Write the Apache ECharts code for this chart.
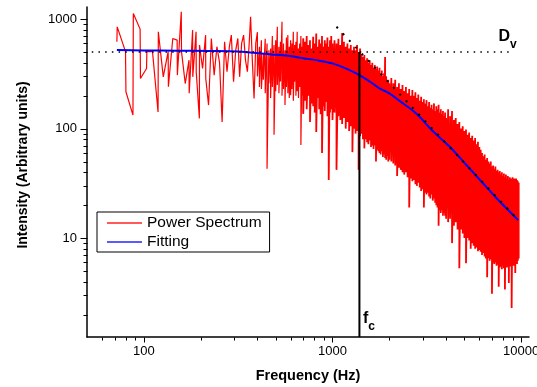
<!DOCTYPE html>
<html><head><meta charset="utf-8">
<script src="https://cdn.jsdelivr.net/npm/echarts@6/dist/echarts.min.js"></script>
<style>html,body{margin:0;padding:0;background:#fff}#c{width:537px;height:387px}</style>
</head><body><div id="c"></div>
<script>
// ---- Power spectrum, low-frequency part (individual points) ----
const lowHz = [72,72.3,80,80.4,87.6,88,95.6,96,103.4,103.8,111.2,119,119.4,126.8,134.6,135,142.4,150.2,150.6,158,158.4,165.8,173.6,174,181.4,181.8,189.2,189.6,197,197.4,204.8,212.6,213,220.4,228,236,244,252,260,268,276,284,291,299,307,315,322,330,338,346,354,361,368,376,384,392];
const lowVal = [620,850,505,217,133,1127,810,287,354,505,505,142,766,297,505,241,666,643,308,1166,505,258,422,210,793,297,766,331,124,580,354,714,287,164,666,308,560,400,115,620,331,560,714,268,520,666,297,600,714,420,331,560,1050,420,188,600];

// ---- Power spectrum, dense part: peak / trough read at each frequency ----
const bandHz = [400,410,420,430,440,450,460,470,480,490,500,510,520,530,540,550,560,570,580,590,600,610,620,630,640,650,660,670,680,690,700,
715,730,745,760,775,790,805,820,835,850,865,880,895,910,925,940,955,970,985,1000,
1025,1050,1075,1100,1125,1150,1175,1200,1225,1250,1275,1300,1325,1350,1375,1400,1425,1450,1475,1500,1525,1550,1575,1600,1625,1650,1675,1700,1725,1750,1775,1800,1825,1850,1875,1900,1925,1950,1975,2000,
2050,2100,2150,2200,2250,2300,2350,2400,2450,2500,2550,2600,2650,2700,2750,2800,2850,2900,2950,3000,3050,3100,3150,3200,3250,3300,3350,3400,3450,3500,3550,3600,3650,3700,3750,3800,3850,3900,3950,4000,
4100,4200,4300,4400,4500,4600,4700,4800,4900,5000,5100,5200,5300,5400,5500,5600,5700,5800,5900,6000,6100,6200,6300,6400,6500,6600,6700,6800,6900,7000,7100,7200,7300,7400,7500,7600,7700,7800,7900,8000,8100,8200,8300,8400,8500,8600,8700,8800,8900,9000,9100,9200,9300,9400,9500,9600,9700];
const bandHigh = [760,560,640,480,660,600,520,540,700,580,640,850,560,620,945,600,520,680,714,560,640,600,766,580,620,766,540,600,700,560,666,
620,700,580,640,540,690,600,740,560,650,600,700,560,640,600,680,560,640,700,600,
640,600,660,580,745,620,560,600,540,580,520,560,520,580,500,540,480,450,470,420,440,400,420,380,400,360,380,350,370,340,360,320,340,300,320,450,300,270,280,260,
290,260,280,240,260,230,250,220,240,210,230,200,225,200,215,190,205,180,195,175,185,170,182,160,175,155,165,150,170,145,160,150,165,140,150,135,145,130,140,125,
150,130,145,120,125,110,115,100,105,95,98,88,92,82,86,78,82,72,76,68,64,60,56,58,52,54,50,48,50,45,46,43,45,41,42,40,41,38,40,37,39,36,38,35,37,34,36,35,33,36,34,35,33,35,34,33,32];
const bandLow = [300,240,230,280,210,43,260,190,240,88,220,250,210,270,200,230,164,240,210,190,202,230,180,268,200,220,190,240,71,200,137,
180,150,200,115,170,160,140,93,190,150,135,60,160,145,175,130,34,140,150,120,
140,42,130,120,110,125,100,115,95,105,61,100,90,95,42,85,90,80,66,80,75,72,78,68,70,65,70,50,64,62,60,58,62,55,58,54,52,56,50,52,
50,48,46,37,44,42,40,38,40,36,19,35,33,34,31,30,32,29,27,28,19,26,25,26,24,23,25,22,23,21,20,19,13,18,17,18,16,17,16,15,
14,15,9,13,14,12,5.3,12,11,10,5.9,10,9.5,8,9,8.5,8,8.2,7.6,7.8,7.5,7,7.3,6.8,6.5,4.4,6.6,6.2,6.4,3.1,6,5.8,6,5.6,5.7,3.6,5.4,5.5,5.2,5.6,5.3,3.4,5.5,5.4,5.6,3.9,5.8,5.5,2.3,5.9,5.6,6,4.8,6.2,5.8,6.2,6.5];

// ---- Fitting curve ----
const fitHz  = [72,100,150,223,316,474,580,711,820,1000,1230,1389,1580,1774,2000,2260,2772,3397,4159,5096,6240,7650,9640];
const fitVal = [521,518,515,511,505,476,462,437,422,394,342,308,268,233,210,180,138,95,69,47,32,21.8,14.6];

// ---- Reference lines ----
const plateauHz = [53, 9000], plateauVal = [500, 500];      // D_v level
const slopeHz = [1050, 9640], slopeVal = [851, 14.6];       // high-frequency asymptote
const cornerHz = 1389;                                       // f_c

// ---- Axes ----
const X_MIN = 50, X_MAX = 11000, Y_MIN = 1.25, Y_MAX = 1290;
const xMajorTicks = [100, 1000, 10000];
const xMinorTicks = [60,70,80,90,200,300,400,500,600,700,800,900,2000,3000,4000,5000,6000,7000,8000,9000];
const yMajorTicks = [10, 100, 1000];
const yMinorTicks = [2,3,4,5,6,7,8,9,20,30,40,50,60,70,80,90,200,300,400,500,600,700,800,900];

const DENSE_FROM = 700;
const spectrumSparse = lowHz.map((f, i) => [f, lowVal[i]]);
const spectrumDense = [];
bandHz.forEach((f, i) => {
  if (f <= DENSE_FROM) { spectrumSparse.push([f, bandHigh[i]]); spectrumSparse.push([f, bandLow[i]]); }
  if (f >= DENSE_FROM) { spectrumDense.push([f, bandHigh[i]]); spectrumDense.push([f, bandLow[i]]); }
});
const fit = fitHz.map((f, i) => [f, fitVal[i]]);

const FONT = 'Liberation Sans, Arial, sans-serif';
const decadeLabel = v => { const l = Math.log10(v); return Math.abs(l - Math.round(l)) < 1e-6 ? String(Math.round(v)) : ''; };

function tickSeries(data, dx, dy) {
  return {
    type: 'custom', data: data, clip: false, silent: true, z: 10,
    renderItem: function (params, api) {
      const p = api.coord([api.value(0), api.value(1)]);
      const x = Math.round(p[0]) + 0.5, y = Math.round(p[1]) + 0.5;
      return { type: 'line', shape: { x1: x, y1: y, x2: x + dx, y2: y + dy }, style: { stroke: '#000', lineWidth: 1 } };
    }
  };
}

const chart = echarts.init(document.getElementById('c'), null, { renderer: 'canvas' });
chart.setOption({
  animation: false,
  backgroundColor: '#fff',
  textStyle: { fontFamily: FONT },
  grid: { left: 87, right: 8, top: 7, bottom: 50, containLabel: false, outerBoundsMode: 'none' },
  legend: {
    orient: 'vertical', left: 97, top: 212,
    padding: [3, 8, 2, 10], itemGap: 3, itemWidth: 35, itemHeight: 2,
    icon: 'rect',
    borderColor: '#000', borderWidth: 1, borderRadius: 0,
    textStyle: { fontSize: 15.5, color: '#000', fontFamily: FONT, lineHeight: 16 },
    data: [
      { name: 'Power Spectrum', itemStyle: { color: '#ff5a5a' } },
      { name: 'Fitting', itemStyle: { color: '#5a5aff' } }
    ]
  },
  xAxis: {
    type: 'log', logBase: 10, min: X_MIN, max: X_MAX,
    axisLine: { show: true, lineStyle: { color: '#000', width: 1.5 } },
    axisTick: { show: false }, minorTick: { show: false }, splitLine: { show: false },
    axisLabel: { formatter: decadeLabel, fontSize: 13, color: '#000', margin: 8, fontFamily: FONT, hideOverlap: false },
    name: 'Frequency (Hz)', nameLocation: 'middle', nameGap: 31,
    nameTextStyle: { fontSize: 14.5, fontWeight: 'bold', color: '#000', fontFamily: FONT }
  },
  yAxis: {
    type: 'log', logBase: 10, min: Y_MIN, max: Y_MAX,
    axisLine: { show: true, lineStyle: { color: '#000', width: 1.5 } },
    axisTick: { show: false }, minorTick: { show: false }, splitLine: { show: false },
    axisLabel: { formatter: decadeLabel, fontSize: 13, color: '#000', margin: 10, fontFamily: FONT },
    name: 'Intensity (Arbitrary units)', nameLocation: 'middle', nameGap: 57,
    nameTextStyle: { fontSize: 14, fontWeight: 'bold', color: '#000', fontFamily: FONT, padding: [0, 0, 0, 14] }
  },
  series: [
    {
      name: 'Power Spectrum', type: 'line', data: spectrumSparse, symbol: 'none', showSymbol: false,
      sampling: null, lineStyle: { color: '#ff0000', width: 1.2 }, itemStyle: { color: '#ff0000' }, z: 2
    },
    {
      name: 'Power Spectrum', type: 'line', data: spectrumDense, symbol: 'none', showSymbol: false,
      sampling: null, lineStyle: { color: '#ff0000', width: 1.8 }, itemStyle: { color: '#ff0000' }, z: 2
    },
    {
      name: 'Fitting', type: 'line', data: fit, symbol: 'none', showSymbol: false, smooth: 0.3,
      lineStyle: { color: '#0000ff', width: 2 }, itemStyle: { color: '#0000ff' }, z: 3
    },
    {
      type: 'line', data: plateauHz.map((f, i) => [f, plateauVal[i]]), symbol: 'none', silent: true,
      lineStyle: { color: '#000', width: 1.5, type: [1.5, 5.2] }, z: 4,
      markPoint: {
        symbol: 'circle', symbolSize: 1, itemStyle: { color: 'rgba(0,0,0,0)' },
        data: [{ coord: [plateauHz[1], plateauVal[1]] }],
        label: {
          show: true, position: 'top', offset: [-5, 4], formatter: '{d|D}{s|v}',
          rich: {
            d: { fontSize: 16, fontWeight: 'bold', color: '#000', fontFamily: FONT, lineHeight: 22, verticalAlign: 'top' },
            s: { fontSize: 12, fontWeight: 'bold', color: '#000', fontFamily: FONT, lineHeight: 22, verticalAlign: 'bottom' }
          }
        }
      }
    },
    {
      type: 'line', data: [[cornerHz, plateauVal[0]], [cornerHz, Y_MIN]], symbol: 'none', silent: true,
      lineStyle: { color: '#000', width: 2 }, z: 4,
      markPoint: {
        symbol: 'circle', symbolSize: 1, itemStyle: { color: 'rgba(0,0,0,0)' },
        data: [{ coord: [cornerHz, Y_MIN] }],
        label: {
          show: true, position: 'right', offset: [-2, -15], formatter: '{d|f}{s|c}',
          rich: {
            d: { fontSize: 16, fontWeight: 'bold', color: '#000', fontFamily: FONT, lineHeight: 22, verticalAlign: 'top' },
            s: { fontSize: 12, fontWeight: 'bold', color: '#000', fontFamily: FONT, lineHeight: 22, verticalAlign: 'bottom' }
          }
        }
      }
    },
    {
      type: 'line', data: slopeHz.map((f, i) => [f, slopeVal[i]]), symbol: 'none', silent: true,
      lineStyle: { color: '#000', width: 2, type: [2, 7.2] }, z: 5
    },
    tickSeries(xMajorTicks.map(v => [v, Y_MIN]), 0, 5),
    tickSeries(xMinorTicks.map(v => [v, Y_MIN]), 0, 3),
    tickSeries(yMajorTicks.map(v => [X_MIN, v]), -7, 0),
    tickSeries(yMinorTicks.map(v => [X_MIN, v]), -4, 0)
  ]
});
</script>
</body></html>
